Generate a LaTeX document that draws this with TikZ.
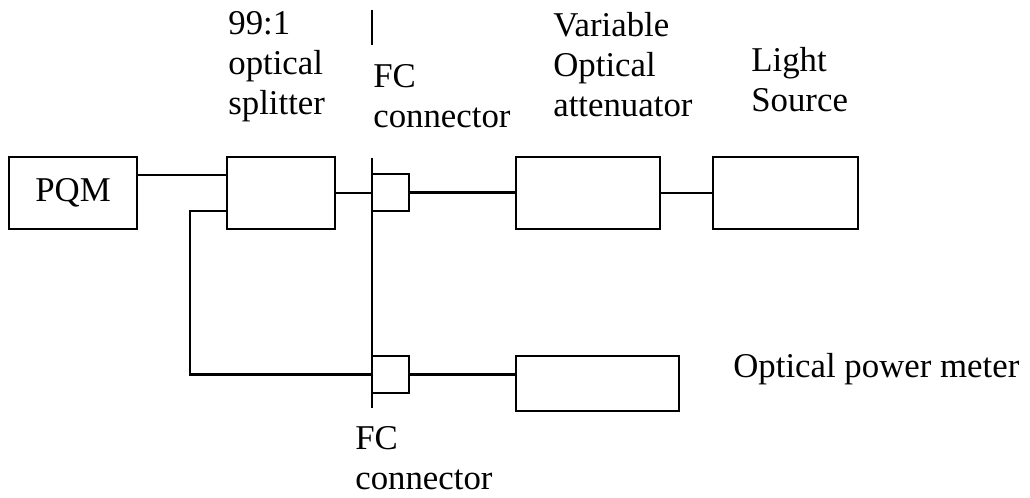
\documentclass[tikz,border=0pt]{standalone}
\usepackage{fontspec}
\setmainfont{Liberation Serif}
\usepackage{tikz}

\begin{document}
\begin{tikzpicture}[
        font=\fontsize{19.8}{22.8}\selectfont,
        devbox/.style={draw, line width=1.5pt, minimum width=#1, minimum height=1.44cm,
                       inner sep=0pt, align=center},
        fcbox/.style={draw, line width=1.5pt, minimum width=0.74cm, minimum height=0.74cm,
                      inner sep=0pt},
        fibre/.style={draw, line width=1.2pt},
        lbl/.style={anchor=base west, inner sep=0pt, align=left}
    ]
      \useasboundingbox[fill=white] (0,0) rectangle (20.6,9.96);

      % --- Upper chain ---
      \node[devbox=2.56cm] (pqm) at (1.46,6.1) {PQM};
      \node[devbox=2.16cm] (split) at (5.62,6.1) {};
      \node[fcbox] (fcA) at (7.81,6.11) {};
      \node[devbox=2.88cm] (voa) at (11.76,6.1) {};
      \node[devbox=2.9cm] (src) at (15.71,6.1) {};

      % --- Lower chain ---
      \node[fcbox] (fcB) at (7.81,2.47) {};
      \node[devbox=3.26cm, minimum height=1.1cm] (opm) at (11.95,2.29) {};

      % Bulkhead line
      \coordinate (wallTop) at (7.44,6.8);
      \coordinate (wallBot) at (7.44,1.8);
      \coordinate (stubTop) at (7.44,9.76);
      \coordinate (stubBot) at (7.44,9.06);
      \draw[fibre] (wallTop) -- (wallBot);
      \draw[fibre] (stubTop) -- (stubBot);

      % Fibre links
      \draw[fibre] ([yshift=0.36cm]pqm.east) -- ([yshift=0.36cm]split.west);
      \draw[fibre] (split.east) -- (split.east -| fcA.west);
      \draw[fibre] (fcA.east) -- (fcA.east -| voa.west);
      \draw[fibre] (voa.east) -- (src.west);
      \draw[fibre] ([yshift=-0.36cm]split.west) -- ++(-0.72,0) |- (fcB.west);
      \draw[fibre] (fcB.east) -- (fcB.east -| opm.west);

      % --- Labels (anchored on last baseline) ---
      \node[lbl] (splitLbl) at (4.56,7.66) {99:1\\optical\\splitter};
      \node[lbl] (fcALbl) at (7.46,7.4) {FC\\connector};
      \node[lbl] (voaLbl) at (11.06,7.62) {Variable\\Optical\\attenuator};
      \node[lbl] (srcLbl) at (15.02,7.72) {Light\\Source};
      \node[lbl] (opmLbl) at (14.66,2.4) {Optical power meter};
      \node[lbl] (fcBLbl) at (7.1,0.16) {FC\\connector};
    \end{tikzpicture}
\end{document}
